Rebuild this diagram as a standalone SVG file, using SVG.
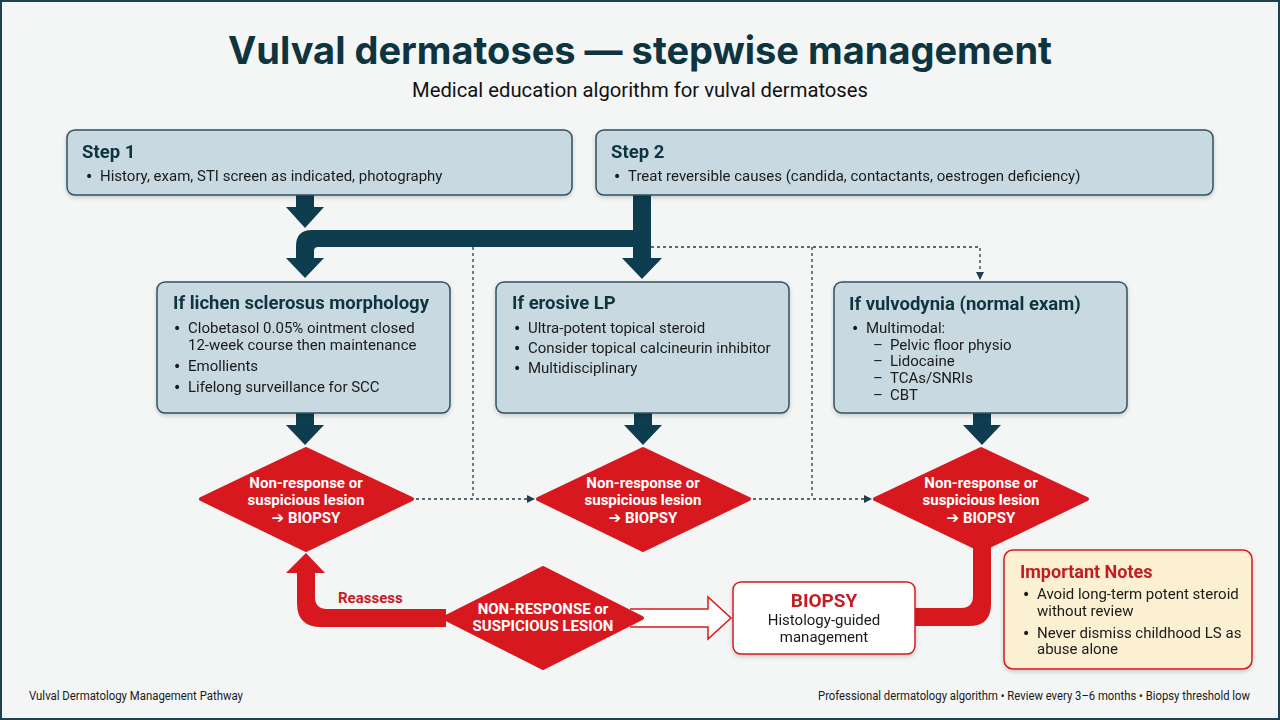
<svg xmlns="http://www.w3.org/2000/svg" width="1280" height="720" viewBox="0 0 1280 720">
<defs>
<style>
.bg{fill:#f4f5f5;stroke:#1e4250;stroke-width:2}
.box{fill:#c9d9e1;stroke:#2f5261;stroke-width:1.5}
.ttl{font-family:Inter,"Liberation Sans",sans-serif;font-weight:700;fill:#0e3440}
.h{font-family:Roboto,"Liberation Sans",sans-serif;font-weight:700;font-size:18.5px;fill:#0e3440}
.t{font-family:Roboto,"Liberation Sans","DejaVu Sans",sans-serif;font-size:15px;fill:#1a1a1a}
.b{font-family:"DejaVu Sans",sans-serif;font-size:14px;fill:#1a1a1a}
.dk{fill:#0e3d4f}
.red{fill:#d7191f}
.dia{fill:#d7191f;stroke:#d7191f;stroke-width:4;stroke-linejoin:round}
.dt{font-family:Roboto,"Liberation Sans","DejaVu Sans",sans-serif;font-weight:700;font-size:15px;fill:#ffffff;text-anchor:middle}
.dot{fill:none;stroke:#1f3f4c;stroke-width:1.3;stroke-dasharray:3 3}
.foot{font-family:Roboto,"Liberation Sans",sans-serif;font-size:12px;fill:#1a1a1a}
</style>
<filter id="sh" x="-10%" y="-10%" width="120%" height="130%">
<feDropShadow dx="0" dy="2" stdDeviation="2" flood-color="#000" flood-opacity="0.18"/>
</filter>
<marker id="ah" markerWidth="8" markerHeight="8" refX="7" refY="4" orient="auto" markerUnits="userSpaceOnUse">
<path d="M0,0 L8,4 L0,8 Z" fill="#1f3f4c"/>
</marker>
</defs>
<rect class="bg" x="1" y="1" width="1278" height="718"/>
<g id="title">
<text class="ttl" x="640" y="64" font-size="38" text-anchor="middle" textLength="824" lengthAdjust="spacingAndGlyphs">Vulval dermatoses — stepwise management</text>
<text x="640" y="97" font-family="Roboto,'Liberation Sans',sans-serif" font-size="20" fill="#111" text-anchor="middle" textLength="456" lengthAdjust="spacingAndGlyphs">Medical education algorithm for vulval dermatoses</text>
</g>
<g id="connectors">
<path class="dot" d="M651 247 L980 247 L980 279" marker-end="url(#ah)"/>
<path class="dot" d="M473 247 L473 499"/>
<path class="dot" d="M812 247 L812 499"/>
<path class="dot" d="M416 499 L534 499" marker-end="url(#ah)"/>
<path class="dot" d="M753 499 L871 499" marker-end="url(#ah)"/>
<path class="dk" d="M296 195 L314 195 L314 207 L324 207 L305 228 L286 207 L296 207 Z"/>
<path class="dk" d="M633 195 L651 195 L651 258 L662 258 L642 279 L622 258 L633 258 L633 247 L318 247 Q314 247 314 251 L314 258 L324 258 L305 278 L286 258 L296 258 L296 246 Q296 230 312 230 L633 230 Z"/>
<path class="dk" d="M296 413 L314 413 L314 425 L324 425 L305 445 L286 425 L296 425 Z"/>
<path class="dk" d="M634 413 L652 413 L652 425 L662 425 L643 445 L624 425 L634 425 Z"/>
<path class="dk" d="M973 413 L991 413 L991 425 L1001 425 L982 445 L963 425 L973 425 Z"/>
<path class="red" d="M973 545 L973 596 Q973 608 961 608 L912 608 L912 626 L969 626 Q991 626 991 604 L991 545 Z"/>
<path class="red" d="M446 609 L327 609 Q315 609 315 597 L315 573 L325 573 L306 553 L286 573 L297 573 L297 603 Q297 627 321 627 L446 627 Z"/>
<path d="M630 609 L708 609 L708 597 L731 618 L708 639 L708 627 L630 627" fill="#ffffff" stroke="#d7191f" stroke-width="1.5" stroke-linejoin="miter"/>
<text x="338" y="603" font-family="Roboto,'Liberation Sans',sans-serif" font-weight="700" font-size="15" fill="#c41c24">Reassess</text>
</g>
<g id="step1" filter="url(#sh)">
<rect class="box" x="67" y="130" width="505" height="65" rx="8"/>
<text class="h" x="82" y="158">Step 1</text>
<text class="b" x="85" y="181">•</text>
<text class="t" x="100" y="181">History, exam, STI screen as indicated, photography</text>
</g>
<g id="step2" filter="url(#sh)">
<rect class="box" x="596" y="130" width="617" height="65" rx="8"/>
<text class="h" x="611" y="158">Step 2</text>
<text class="b" x="613" y="181">•</text>
<text class="t" x="628" y="181">Treat reversible causes (candida, contactants, oestrogen deficiency)</text>
</g>
<g id="lichen" filter="url(#sh)">
<rect class="box" x="157" y="282" width="293" height="131" rx="8"/>
<text class="h" x="173" y="309">If lichen sclerosus morphology</text>
<text class="b" x="173" y="333">•</text>
<text class="t" x="188" y="333">Clobetasol 0.05% ointment closed</text>
<text class="t" x="188" y="350">12-week course then maintenance</text>
<text class="b" x="173" y="371">•</text>
<text class="t" x="188" y="371">Emollients</text>
<text class="b" x="173" y="392">•</text>
<text class="t" x="188" y="392">Lifelong surveillance for SCC</text>
</g>
<g id="erosive" filter="url(#sh)">
<rect class="box" x="496" y="282" width="293" height="131" rx="8"/>
<text class="h" x="512" y="309">If erosive LP</text>
<text class="b" x="513" y="333">•</text>
<text class="t" x="528" y="333">Ultra-potent topical steroid</text>
<text class="b" x="513" y="353">•</text>
<text class="t" x="528" y="353">Consider topical calcineurin inhibitor</text>
<text class="b" x="513" y="373">•</text>
<text class="t" x="528" y="373">Multidisciplinary</text>
</g>
<g id="vulvodynia" filter="url(#sh)">
<rect class="box" x="834" y="282" width="293" height="131" rx="8"/>
<text class="h" x="849" y="310">If vulvodynia (normal exam)</text>
<text class="b" x="851" y="333">•</text>
<text class="t" x="866" y="333">Multimodal:</text>
<text class="t" x="873" y="350">–</text>
<text class="t" x="890" y="350">Pelvic floor physio</text>
<text class="t" x="873" y="366">–</text>
<text class="t" x="890" y="366">Lidocaine</text>
<text class="t" x="873" y="383">–</text>
<text class="t" x="890" y="383">TCAs/SNRIs</text>
<text class="t" x="873" y="400">–</text>
<text class="t" x="890" y="400">CBT</text>
</g>
<g id="diamond1">
<polygon class="dia" points="306,449 412,499 306,550 201,499"/>
<text class="dt" x="306" y="488">Non-response or</text>
<text class="dt" x="306" y="505">suspicious lesion</text>
<text class="dt" x="306" y="523"><tspan font-family="'DejaVu Sans',sans-serif" font-size="15">➔</tspan> BIOPSY</text>
</g>
<g id="diamond2">
<polygon class="dia" points="643,449 749,499 643,550 538,499"/>
<text class="dt" x="643" y="488">Non-response or</text>
<text class="dt" x="643" y="505">suspicious lesion</text>
<text class="dt" x="643" y="523"><tspan font-family="'DejaVu Sans',sans-serif" font-size="15">➔</tspan> BIOPSY</text>
</g>
<g id="diamond3">
<polygon class="dia" points="981,449 1087,499 981,550 875,499"/>
<text class="dt" x="981" y="488">Non-response or</text>
<text class="dt" x="981" y="505">suspicious lesion</text>
<text class="dt" x="981" y="523"><tspan font-family="'DejaVu Sans',sans-serif" font-size="15">➔</tspan> BIOPSY</text>
</g>
<g id="nonresponse">
<polygon class="dia" points="543,568 642,618 543,668 444,618"/>
<text class="dt" x="543" y="614">NON-RESPONSE or</text>
<text class="dt" x="543" y="631">SUSPICIOUS LESION</text>
</g>
<g id="biopsy" filter="url(#sh)">
<rect x="733" y="582" width="182" height="72" rx="8" fill="#ffffff" stroke="#d7191f" stroke-width="1.5"/>
<text x="824" y="607" text-anchor="middle" font-family="Roboto,'Liberation Sans',sans-serif" font-weight="700" font-size="19" fill="#c41c24">BIOPSY</text>
<text class="t" x="824" y="625" text-anchor="middle">Histology-guided</text>
<text class="t" x="824" y="642" text-anchor="middle">management</text>
</g>
<g id="notes" filter="url(#sh)">
<rect x="1004" y="550" width="248" height="119" rx="9" fill="#fbf0d2" stroke="#d7191f" stroke-width="1.5"/>
<text x="1020" y="578" font-family="Roboto,'Liberation Sans',sans-serif" font-weight="700" font-size="18" fill="#c41c24">Important Notes</text>
<text class="b" x="1022" y="599">•</text>
<text class="t" x="1037" y="599">Avoid long-term potent steroid</text>
<text class="t" x="1037" y="616">without review</text>
<text class="b" x="1022" y="638">•</text>
<text class="t" x="1037" y="638">Never dismiss childhood LS as</text>
<text class="t" x="1037" y="654">abuse alone</text>
</g>
<g id="footer">
<text class="foot" x="29" y="700" textLength="214" lengthAdjust="spacingAndGlyphs">Vulval Dermatology Management Pathway</text>
<text class="foot" x="818" y="700" textLength="432" lengthAdjust="spacingAndGlyphs">Professional dermatology algorithm • Review every 3–6 months • Biopsy threshold low</text>
</g>
</svg>
